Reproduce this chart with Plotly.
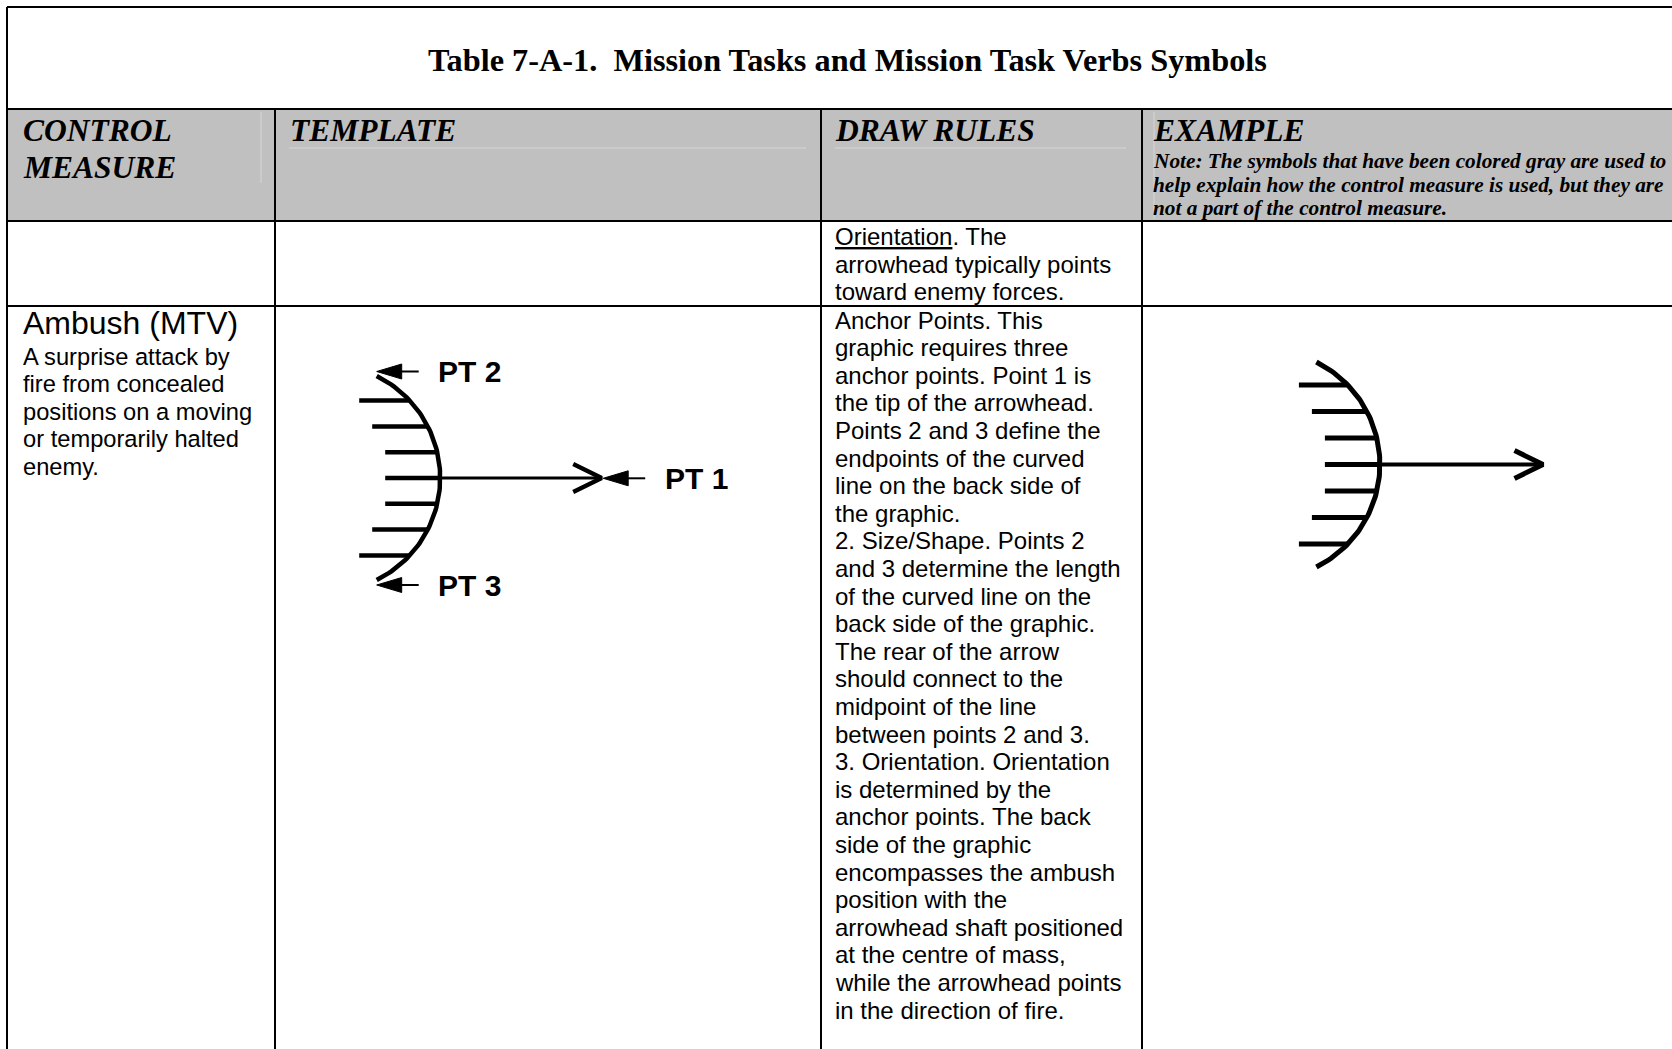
import math
import plotly.graph_objects as go

W, H = 1672, 1049

# ---------------- text content ----------------
title_text = "Table 7-A-1.\u00a0 Mission Tasks and Mission Task Verbs Symbols"
header_cells = [["CONTROL", "MEASURE"], ["TEMPLATE"], ["DRAW RULES"], ["EXAMPLE"]]
example_note = [
    "Note: The symbols that have been colored gray are used to",
    "help explain how the control measure is used, but they are",
    "not a part of the control measure.",
]
row1_rules = ["<u>Orientation</u>. The", "arrowhead typically points", "toward enemy forces."]
ambush_name = "Ambush (MTV)"
ambush_desc = [
    "A surprise attack by",
    "fire from concealed",
    "positions on a moving",
    "or temporarily halted",
    "enemy.",
]
ambush_rules = [
    "Anchor Points. This",
    "graphic requires three",
    "anchor points. Point 1 is",
    "the tip of the arrowhead.",
    "Points 2 and 3 define the",
    "endpoints of the curved",
    "line on the back side of",
    "the graphic.",
    "2. Size/Shape. Points 2",
    "and 3 determine the length",
    "of the curved line on the",
    "back side of the graphic.",
    "The rear of the arrow",
    "should connect to the",
    "midpoint of the line",
    "between points 2 and 3.",
    "3. Orientation. Orientation",
    "is determined by the",
    "anchor points. The back",
    "side of the graphic",
    "encompasses the ambush",
    "position with the",
    "arrowhead shaft positioned",
    "at the centre of mass,",
    "while the arrowhead points",
    "in the direction of fire.",
]
anchor_labels = ["PT 1", "PT 2", "PT 3"]

# ---------------- symbol anchor points (template and example) ----------------
template_pt1 = (601.7, 478.3)
template_pt2 = (376.7, 376.0)
template_pt3 = (376.7, 580.0)
example_pt1 = (1543.0, 464.5)
example_pt2 = (1316.4, 362.0)
example_pt3 = (1316.4, 567.0)
hatch_insets = [81, 68, 55, 55, 55, 68, 81]

# ---------------- layout constants ----------------
X_LEFT, X_C1, X_C2, X_C3 = 7, 275, 821, 1142
Y_TOP, Y_TITLE, Y_HEAD, Y_ROW1 = 7, 109, 221, 306
GRAY = "#c0c0c0"
SANS = "Liberation Sans, Arial, sans-serif"
SERIF = "Liberation Serif, Times New Roman, serif"

fig = go.Figure()

# header background
fig.add_shape(type="rect", x0=X_LEFT, x1=W + 5, y0=Y_TITLE, y1=Y_HEAD,
              fillcolor=GRAY, line=dict(width=0), layer="below")
# faint cell lines inside header
for (x0, y0, x1, y1) in [(261, 112, 261, 183), (289, 148, 806, 148),
                         (835, 148, 1126, 148), (1154, 112, 1154, 219)]:
    fig.add_shape(type="line", x0=x0, y0=y0, x1=x1, y1=y1,
                  line=dict(color="#d6d6d6", width=1), layer="below")

# table grid
for y in [Y_TOP, Y_TITLE, Y_HEAD, Y_ROW1]:
    fig.add_shape(type="line", x0=X_LEFT, x1=W + 5, y0=y, y1=y,
                  line=dict(color="black", width=2))
fig.add_shape(type="line", x0=X_LEFT, x1=X_LEFT, y0=Y_TOP, y1=H + 5,
              line=dict(color="black", width=2))
for x in [X_C1, X_C2, X_C3]:
    fig.add_shape(type="line", x0=x, x1=x, y0=Y_TITLE, y1=H + 5,
                  line=dict(color="black", width=2))


def text(x, baseline, s, size, family, bold=False, italic=False, serif=False, anchor="left"):
    asc, desc = (0.891, 0.216) if serif else (0.905, 0.212)
    yc = baseline - (asc - (asc + desc) / 2) * size
    fig.add_annotation(x=x, y=yc, xref="x", yref="y", text=s, showarrow=False,
                       xanchor=anchor, yanchor="middle", borderpad=0, borderwidth=0,
                       font=dict(family=family, size=size, color="black",
                                 weight="bold" if bold else "normal",
                                 style="italic" if italic else "normal"))


# title
text(428, 71, title_text, 32.3, SERIF, bold=True, serif=True)

# header labels
head_x = [23, 290, 835, 1153]
for hx, lines in zip(head_x, header_cells):
    for i, ln in enumerate(lines):
        text(hx, 141.5 + i * 36.5, ln, 31.5, SERIF, bold=True, italic=True, serif=True)
for i, ln in enumerate(example_note):
    text(1153, 168 + i * 23.7, ln, 21.3, SERIF, bold=True, italic=True, serif=True)

# row 1
for i, ln in enumerate(row1_rules):
    text(835, 245 + i * 27.5, ln, 24, SANS)

# row 2: control measure
text(23, 334, ambush_name, 32, SANS)
for i, ln in enumerate(ambush_desc):
    text(23, 365 + i * 27.5, ln, 23.7, SANS)
# row 2: draw rules
for i, ln in enumerate(ambush_rules):
    text(835, 328.5 + i * 27.6, ln, 24, SANS)


def seg(xs, ys, width):
    fig.add_trace(go.Scatter(x=xs, y=ys, mode="lines", hoverinfo="skip", showlegend=False,
                             line=dict(color="black", width=width)))


def symbol(pt1, pt2, pt3, step, w_arc, w_hatch, w_shaft, w_head):
    bulge = 63.5
    cy = (pt2[1] + pt3[1]) / 2
    half = (pt3[1] - pt2[1]) / 2
    apex = pt2[0] + bulge
    R = (half ** 2 + bulge ** 2) / (2 * bulge)
    cx = apex - R
    a0 = math.asin(half / R)
    n = 90
    angs = [-a0 + 2 * a0 * i / (n - 1) for i in range(n)]
    seg([cx + R * math.cos(a) for a in angs], [cy + R * math.sin(a) for a in angs], w_arc)
    for k, inset in zip(range(-3, 4), hatch_insets):
        y = cy + k * step
        xr = cx + math.sqrt(R * R - (y - cy) ** 2)
        seg([apex - inset, xr], [y, y], w_hatch)
    seg([apex, pt1[0] - 1], [cy, cy], w_shaft)
    seg([pt1[0] - 28.5, pt1[0], pt1[0] - 28.5], [cy - 14, cy, cy + 14], w_head)


symbol(template_pt1, template_pt2, template_pt3, 25.8, 4.5, 4.5, 3.2, 4.2)
symbol(example_pt1, example_pt2, example_pt3, 26.5, 5, 5, 4, 5)


def pointer(tip_x, y, label):
    fig.add_trace(go.Scatter(x=[tip_x, tip_x + 25, tip_x + 25, tip_x],
                             y=[y, y - 7.5, y + 7.5, y], mode="lines", fill="toself",
                             fillcolor="black", line=dict(color="black", width=1),
                             hoverinfo="skip", showlegend=False))
    seg([tip_x + 20, tip_x + 42], [y, y], 2)
    text(tip_x + 61.5, y + 10.5, label, 30, SANS, bold=True)


pointer(template_pt1[0] + 1.5, template_pt1[1], anchor_labels[0])
pointer(template_pt2[0], template_pt2[1] - 4.5, anchor_labels[1])
pointer(template_pt3[0], template_pt3[1] + 5, anchor_labels[2])

fig.update_layout(
    width=W, height=H, autosize=False,
    margin=dict(l=0, r=0, t=0, b=0, pad=0),
    paper_bgcolor="white", plot_bgcolor="white",
    showlegend=False,
    xaxis=dict(range=[0, W], visible=False, fixedrange=True),
    yaxis=dict(range=[H, 0], visible=False, fixedrange=True),
)

fig.write_html("out.html", config={"displayModeBar": False, "staticPlot": True},
               post_script="document.body.style.margin='0';document.body.style.overflow='hidden';")
